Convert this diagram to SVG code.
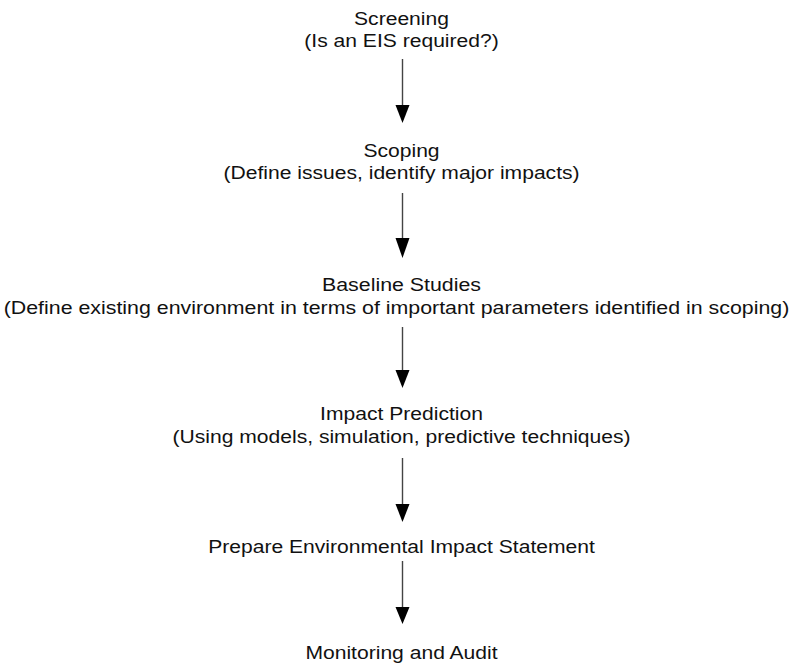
<svg xmlns="http://www.w3.org/2000/svg" width="801" height="665" viewBox="0 0 801 665">
  <style>
    .lbl { font-family: "Liberation Sans", Arial, sans-serif; font-size: 18.5px; fill: #111; text-anchor: middle; }
    .flow { stroke: #444; stroke-width: 1.4; fill: none; }
    .head { fill: #000; }
  </style>
  <rect width="801" height="665" fill="#fff"/>

  <!-- connectors: vertical shaft plus filled triangular head -->
  <g id="connectors">
    <line class="flow" x1="402.5" y1="59" x2="402.5" y2="106"/>
    <polygon class="head" points="395.5,105 409.5,105 402.5,123"/>
    <line class="flow" x1="402.5" y1="193" x2="402.5" y2="239"/>
    <polygon class="head" points="395.5,238 409.5,238 402.5,258"/>
    <line class="flow" x1="402.5" y1="327" x2="402.5" y2="371"/>
    <polygon class="head" points="395.5,370 409.5,370 402.5,388"/>
    <line class="flow" x1="402.5" y1="458" x2="402.5" y2="505"/>
    <polygon class="head" points="395.5,504 409.5,504 402.5,522"/>
    <line class="flow" x1="402.5" y1="561" x2="402.5" y2="608"/>
    <polygon class="head" points="395.5,607 409.5,607 402.5,624"/>
  </g>

  <!-- labels are drawn slightly widened horizontally -->
  <g id="screening" transform="translate(401.5 0) scale(1.14 1)">
    <text class="lbl" x="0" y="25">Screening</text>
    <text class="lbl" x="0" y="47">(Is an EIS required?)</text>
  </g>
  <g id="scoping" transform="translate(401.5 0) scale(1.14 1)">
    <text class="lbl" x="0" y="157">Scoping</text>
    <text class="lbl" x="0" y="179.5">(Define issues, identify major impacts)</text>
  </g>
  <g id="baseline" transform="translate(396.5 0) scale(1.155 1)">
    <text class="lbl" x="4.33" y="291">Baseline Studies</text>
    <text class="lbl" x="0" y="314">(Define existing environment in terms of important parameters identified in scoping)</text>
  </g>
  <g id="prediction" transform="translate(401.5 0) scale(1.14 1)">
    <text class="lbl" x="0" y="420.5">Impact Prediction</text>
    <text class="lbl" x="0" y="443.5">(Using models, simulation, predictive techniques)</text>
  </g>
  <g id="eis" transform="translate(401.5 0) scale(1.14 1)">
    <text class="lbl" x="0" y="553">Prepare Environmental Impact Statement</text>
  </g>
  <g id="monitoring" transform="translate(401.5 0) scale(1.14 1)">
    <text class="lbl" x="0" y="659">Monitoring and Audit</text>
  </g>
</svg>
